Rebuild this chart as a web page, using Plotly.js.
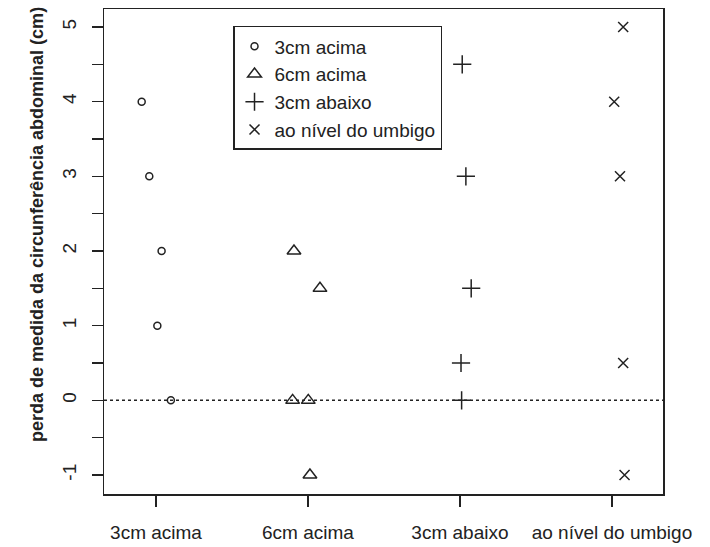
<!DOCTYPE html>
<html>
<head>
<meta charset="utf-8">
<script src="https://cdn.plot.ly/plotly-3.0.1.min.js"></script>
<style>html,body{margin:0;padding:0;background:#fff;}#chart{width:710px;height:547px;}</style>
</head>
<body>
<div id="chart"></div>
<script>
// Category tick labels
var categories = ["3cm acima", "6cm acima", "3cm abaixo", "ao nível do umbigo"];
var categoryPos = [1, 2, 3, 4];

// Series (jittered x positions, y values)
var acima3_x = [0.906, 0.956, 1.037, 1.009, 1.098];
var acima3_y = [4, 3, 2, 1, 0];

var acima6_x = [1.908, 2.079, 1.899, 2.002, 2.013];
var acima6_y = [2, 1.5, 0, 0, -1];

var abaixo3_x = [3.015, 3.039, 3.074, 3.007, 3.011];
var abaixo3_y = [4.5, 3, 1.5, 0.5, 0];

var umbigo_x = [4.074, 4.015, 4.053, 4.074, 4.083];
var umbigo_y = [5, 4, 3, 0.5, -1];

var yTickVals = [-1, -0.5, 0, 0.5, 1, 1.5, 2, 2.5, 3, 3.5, 4, 4.5, 5];
var yTickText = ["-1", "", "0", "", "1", "", "2", "", "3", "", "4", "", "5"];

var ink = "#222";
var fontFam = "Liberation Sans, Arial, sans-serif";

function tr(x, y, name, symbol, size) {
  return {
    x: x, y: y, name: name, type: "scatter", mode: "markers",
    marker: {symbol: symbol, size: size, color: ink, line: {color: ink, width: 1.5}},
    hoverinfo: "skip"
  };
}

var data = [
  tr(acima3_x, acima3_y, "3cm acima", "circle-open", 7),
  tr(acima6_x, acima6_y, "6cm acima", "triangle-up-open", 12),
  tr(abaixo3_x, abaixo3_y, "3cm abaixo", "cross-thin-open", 13),
  tr(umbigo_x, umbigo_y, "ao nível do umbigo", "x-thin-open", 10)
];

var layout = {
  width: 710, height: 547,
  margin: {l: 104, r: 47, t: 9, b: 53, pad: 0},
  paper_bgcolor: "#fff", plot_bgcolor: "#fff",
  font: {family: fontFam, size: 19, color: ink},
  showlegend: true,
  legend: {
    x: 0.2308, y: 0.965, xanchor: "left", yanchor: "top",
    bordercolor: ink, borderwidth: 1.5, bgcolor: "#fff",
    font: {family: fontFam, size: 19, color: ink},
    tracegroupgap: 0, itemwidth: 30
  },
  xaxis: {
    range: [0.658, 4.336],
    tickmode: "array", tickvals: categoryPos, ticktext: categories,
    showgrid: false, zeroline: false,
    showline: true, mirror: true, linecolor: ink, linewidth: 1.5,
    ticks: "outside", ticklen: 11, tickwidth: 1.5, tickcolor: ink,
    ticklabelstandoff: 10,
    tickfont: {family: fontFam, size: 19, color: ink}
  },
  yaxis: {
    range: [-1.254, 5.241],
    tickmode: "array", tickvals: yTickVals, ticktext: yTickText,
    tickangle: -90,
    showgrid: false, zeroline: false,
    showline: true, mirror: true, linecolor: ink, linewidth: 1.5,
    ticks: "outside", ticklen: 11, tickwidth: 1.5, tickcolor: ink,
    ticklabelstandoff: 8,
    tickfont: {family: fontFam, size: 19, color: ink}
  },
  shapes: [{
    type: "line", xref: "paper", x0: 0, x1: 1, yref: "y", y0: 0, y1: 0,
    line: {color: ink, width: 1.5, dash: "dot"}, layer: "below"
  }],
  annotations: [{
    text: "<b>perda de medida da circunferência abdominal (cm)</b>",
    xref: "paper", yref: "paper",
    x: (37 - 104) / 559, y: (494 - 225) / 485,
    xanchor: "center", yanchor: "middle", textangle: -90, showarrow: false,
    font: {family: fontFam, size: 18, color: ink}
  }]
};

Plotly.newPlot("chart", data, layout, {displayModeBar: false, staticPlot: true});
</script>
</body>
</html>
